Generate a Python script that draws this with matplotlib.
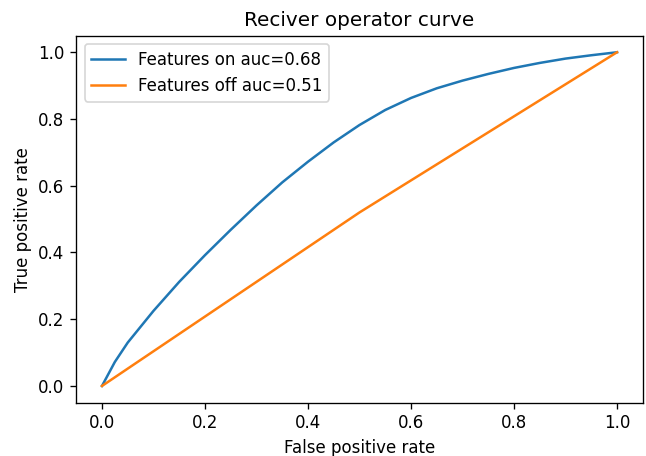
import matplotlib
matplotlib.use('Agg')
import matplotlib.pyplot as plt

# ROC points
fpr_on = [0.0, 0.025, 0.05, 0.1, 0.15, 0.2, 0.25, 0.3, 0.35, 0.4, 0.45, 0.5,
          0.55, 0.6, 0.65, 0.7, 0.75, 0.8, 0.85, 0.9, 0.95, 1.0]
tpr_on = [0.0, 0.072, 0.13, 0.225, 0.312, 0.392, 0.468, 0.541, 0.610, 0.672,
          0.730, 0.782, 0.827, 0.863, 0.892, 0.915, 0.935, 0.953, 0.968, 0.981,
          0.991, 1.0]
auc_on = 0.68

fpr_off = [0.0, 0.5, 1.0]
tpr_off = [0.0, 0.52, 1.0]
auc_off = 0.51

fig = plt.figure(figsize=(646 / 120, 456 / 120), dpi=120)
ax = fig.add_subplot(111)
fig.subplots_adjust(left=0.118, right=0.995, top=0.922, bottom=0.117)

ax.plot(fpr_on, tpr_on, label='Features on auc=%.2f' % auc_on)
ax.plot(fpr_off, tpr_off, label='Features off auc=%.2f' % auc_off)
ax.set_title('Reciver operator curve')
ax.set_xlabel('False positive rate')
ax.set_ylabel('True positive rate')
ax.legend(loc='upper left')

plt.savefig('out.png')
plt.close()
